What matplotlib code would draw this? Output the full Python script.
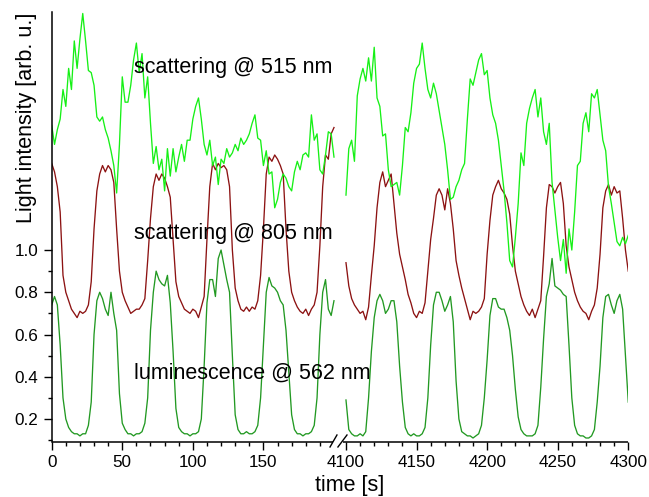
import numpy as np
import matplotlib
matplotlib.use("Agg")
import matplotlib.pyplot as plt

# ---------------- data ----------------
t_left = np.arange(0, 201, 2)          # s
t_right = np.arange(4100, 4301, 2)     # s

lum_left = [
    0.74, 0.78, 0.74, 0.55, 0.30, 0.20, 0.16, 0.14, 0.13, 0.13,
    0.12, 0.13, 0.13, 0.17, 0.28, 0.60, 0.76, 0.80, 0.77, 0.72,
    0.69, 0.80, 0.70, 0.62, 0.32, 0.18, 0.15, 0.13, 0.13, 0.12,
    0.13, 0.13, 0.14, 0.18, 0.30, 0.62, 0.80, 0.90, 0.86, 0.84,
    0.83, 0.88, 0.75, 0.52, 0.25, 0.16, 0.14, 0.13, 0.13, 0.12,
    0.13, 0.13, 0.14, 0.20, 0.45, 0.75, 0.86, 0.86, 0.78, 0.96,
    1.00, 0.93, 0.86, 0.80, 0.50, 0.22, 0.15, 0.13, 0.13, 0.14,
    0.13, 0.13, 0.14, 0.17, 0.30, 0.55, 0.80, 0.87, 0.83, 0.82,
    0.80, 0.76, 0.74, 0.62, 0.42, 0.22, 0.15, 0.13, 0.13, 0.12,
    0.13, 0.13, 0.14, 0.17, 0.30, 0.60, 0.80, 0.86, 0.72, 0.69,
    0.76,
]
lum_right = [
    0.29, 0.15, 0.13, 0.12, 0.12, 0.13, 0.12, 0.14, 0.30, 0.52,
    0.68, 0.76, 0.79, 0.76, 0.70, 0.72, 0.76, 0.76, 0.66, 0.45,
    0.28, 0.16, 0.13, 0.12, 0.13, 0.12, 0.12, 0.13, 0.16, 0.30,
    0.55, 0.74, 0.80, 0.80, 0.76, 0.71, 0.74, 0.78, 0.66, 0.38,
    0.20, 0.14, 0.13, 0.12, 0.12, 0.11, 0.12, 0.13, 0.17, 0.30,
    0.48, 0.69, 0.77, 0.77, 0.73, 0.72, 0.72, 0.68, 0.62, 0.50,
    0.34, 0.21, 0.15, 0.13, 0.12, 0.12, 0.12, 0.13, 0.17, 0.35,
    0.58, 0.78, 0.84, 0.96, 0.83, 0.82, 0.81, 0.79, 0.78, 0.55,
    0.30, 0.17, 0.13, 0.12, 0.12, 0.11, 0.11, 0.12, 0.15, 0.28,
    0.45, 0.68, 0.78, 0.79, 0.74, 0.70, 0.76, 0.79, 0.72, 0.50,
    0.28,
]
sc805_left = [
    1.41, 1.37, 1.30, 1.18, 0.88, 0.80, 0.76, 0.72, 0.70, 0.68,
    0.71, 0.70, 0.71, 0.74, 0.85, 1.10, 1.28, 1.36, 1.40, 1.37,
    1.40, 1.38, 1.32, 1.10, 0.90, 0.80, 0.76, 0.73, 0.70, 0.71,
    0.72, 0.72, 0.74, 0.77, 0.95, 1.15, 1.30, 1.36, 1.33, 1.36,
    1.34, 1.30, 1.25, 1.05, 0.85, 0.78, 0.75, 0.72, 0.71, 0.70,
    0.72, 0.71, 0.68, 0.73, 0.78, 1.05, 1.30, 1.41, 1.38, 1.41,
    1.39, 1.40, 1.38, 1.30, 1.00, 0.82, 0.76, 0.72, 0.71, 0.73,
    0.71, 0.73, 0.72, 0.76, 0.88, 1.10, 1.36, 1.44, 1.42, 1.45,
    1.43, 1.40, 1.36, 1.10, 0.90, 0.80, 0.76, 0.73, 0.71, 0.70,
    0.72, 0.69, 0.72, 0.74, 0.80, 1.02, 1.30, 1.45, 1.43, 1.55,
    1.58,
]
sc805_right = [
    0.94, 0.83, 0.77, 0.74, 0.72, 0.70, 0.71, 0.67, 0.73, 0.88,
    1.02, 1.20, 1.32, 1.37, 1.30, 1.33, 1.36, 1.22, 1.08, 0.98,
    0.92, 0.86, 0.79, 0.75, 0.70, 0.68, 0.71, 0.70, 0.75, 0.90,
    1.05, 1.15, 1.26, 1.29, 1.26, 1.19, 1.29, 1.22, 1.10, 0.95,
    0.88, 0.82, 0.77, 0.72, 0.67, 0.71, 0.70, 0.71, 0.73, 0.77,
    0.98, 1.14, 1.26, 1.30, 1.33, 1.29, 1.27, 1.24, 1.17, 1.02,
    0.90, 0.84, 0.78, 0.74, 0.71, 0.69, 0.72, 0.68, 0.72, 0.76,
    0.97, 1.20, 1.31, 1.30, 1.27, 1.30, 1.32, 1.22, 1.02, 0.92,
    0.86, 0.80, 0.76, 0.73, 0.71, 0.70, 0.67, 0.71, 0.74, 0.82,
    0.98, 1.20, 1.28, 1.31, 1.26, 1.30, 1.27, 1.28, 1.15, 1.00,
    0.90,
]
sc515_left = [
    1.59, 1.50, 1.57, 1.62, 1.76, 1.68, 1.86, 1.76, 1.99, 1.86,
    2.00, 2.12, 1.99, 1.85, 1.84, 1.78, 1.63, 1.61, 1.63, 1.57,
    1.53, 1.47, 1.40, 1.27, 1.50, 1.82, 1.70, 1.70, 1.78, 1.90,
    1.98, 1.84, 1.93, 1.72, 1.82, 1.60, 1.41, 1.49, 1.38, 1.43,
    1.28, 1.48, 1.35, 1.48, 1.37, 1.44, 1.50, 1.42, 1.52, 1.52,
    1.62, 1.68, 1.72, 1.62, 1.50, 1.45, 1.52, 1.40, 1.44, 1.31,
    1.43, 1.41, 1.48, 1.44, 1.46, 1.50, 1.47, 1.53, 1.50, 1.52,
    1.55, 1.60, 1.64, 1.53, 1.52, 1.40, 1.47, 1.36, 1.37, 1.20,
    1.24, 1.32, 1.36, 1.34, 1.30, 1.28, 1.37, 1.42, 1.38, 1.45,
    1.46, 1.44, 1.64, 1.52, 1.55, 1.38, 1.36, 1.45, 1.56, 1.55,
    1.44,
]
sc515_right = [
    1.26, 1.48, 1.52, 1.42, 1.73, 1.81, 1.86, 1.80, 1.91, 1.80,
    1.96, 1.72, 1.68, 1.54, 1.55, 1.38, 1.30, 1.31, 1.32, 1.26,
    1.40, 1.58, 1.56, 1.65, 1.79, 1.86, 1.88, 1.98, 1.86, 1.76,
    1.72, 1.79, 1.74, 1.66, 1.58, 1.50, 1.38, 1.24, 1.25, 1.30,
    1.33, 1.38, 1.41, 1.62, 1.81, 1.78, 1.84, 1.90, 1.93, 1.83,
    1.85, 1.72, 1.64, 1.60, 1.52, 1.40, 1.28, 1.13, 0.95, 0.92,
    1.06, 1.22, 1.46, 1.40, 1.60, 1.67, 1.72, 1.76, 1.63, 1.72,
    1.56, 1.50, 1.60, 1.32, 1.19, 1.06, 0.95, 1.05, 0.89, 1.10,
    1.00, 1.18, 1.40, 1.42, 1.60, 1.65, 1.56, 1.74, 1.72, 1.76,
    1.64, 1.52, 1.47, 1.30, 1.22, 1.13, 1.04, 1.02, 1.06, 1.03,
    1.07,
]

x_major_left = [0, 50, 100, 150]
x_major_right = [4100, 4150, 4200, 4250, 4300]
y_major = [0.2, 0.4, 0.6, 0.8, 1.0]
y_minor = [0.1, 0.3, 0.5, 0.7, 0.9]

labels = ["scattering @ 515 nm", "scattering @ 805 nm", "luminescence @ 562 nm"]

# ------------- broken axis mapping -------------
shift = 4100 - 208.5   # right block is drawn shifted next to the left block


def xr(t):
    return np.asarray(t, dtype=float) - shift


plt.rcParams["font.family"] = ["Liberation Sans", "DejaVu Sans"]

fig = plt.figure(figsize=(6.49, 4.97), dpi=100)
ax = fig.add_axes([0.07966, 0.11127, 0.8884, 0.8646])

c_lum = "#229922"
c_805 = "#8c1212"
c_515 = "#16f016"
lw = 0.95

ax.plot(t_left, lum_left, color=c_lum, lw=lw)
ax.plot(xr(t_right), lum_right, color=c_lum, lw=lw)
ax.plot(t_left, sc805_left, color=c_805, lw=lw)
ax.plot(xr(t_right), sc805_right, color=c_805, lw=lw)
ax.plot(t_left, sc515_left, color=c_515, lw=lw)
ax.plot(xr(t_right), sc515_right, color=c_515, lw=lw)

ax.set_xlim(0, xr(4300))
ax.set_ylim(0.0925, 2.127)

for s in ("top", "right", "bottom"):
    ax.spines[s].set_visible(False)
ax.spines["left"].set_linewidth(1.1)

# x ticks
xmaj = list(x_major_left) + list(xr(x_major_right))
xlab = [str(v) for v in x_major_left] + [str(v) for v in x_major_right]
ax.set_xticks(xmaj)
ax.set_xticklabels(xlab)
xmin = [v for v in range(10, 200, 10) if v % 50] + \
       [float(xr(v)) for v in range(4110, 4300, 10) if v % 50]
ax.set_xticks(xmin, minor=True)

ax.set_yticks(y_major)
ax.set_yticklabels([f"{v:.1f}" for v in y_major])
ax.set_yticks(y_minor, minor=True)

ax.tick_params(which="major", direction="out", length=5.8, width=1.0,
               labelsize=12.3, pad=4)
ax.tick_params(which="minor", direction="out", length=3.2, width=1.0)

# broken x-axis line with "//" marks
tr = ax.get_xaxis_transform()
ax.plot([0, 199.3], [0, 0], color="black", lw=1.1, transform=tr,
        clip_on=False, solid_capstyle="butt")
ax.plot([206.4, xr(4300)], [0, 0], color="black", lw=1.1, transform=tr,
        clip_on=False, solid_capstyle="butt")
ax.plot([197.2, 202.1], [-0.0123, 0.0156], color="black", lw=1.0,
        transform=tr, clip_on=False)
ax.plot([202.8, 209.2], [-0.0123, 0.0156], color="black", lw=1.0,
        transform=tr, clip_on=False)

# axis labels
fig.text(27 / 649, 1 - 118 / 497, "Light intensity [arb. u.]", rotation=90,
         ha="center", va="center", fontsize=15.5)
fig.text(350 / 649, 1 - 486 / 497, "time [s]", ha="center", va="center",
         fontsize=15.5)

# curve annotations
fig.text(134 / 649, 1 - 67 / 497, labels[0], ha="left", va="center",
         fontsize=15.5)
fig.text(134 / 649, 1 - 234 / 497, labels[1], ha="left", va="center",
         fontsize=15.5)
fig.text(134 / 649, 1 - 373 / 497, labels[2], ha="left", va="center",
         fontsize=15.5)

fig.savefig("out.png", dpi=100)
